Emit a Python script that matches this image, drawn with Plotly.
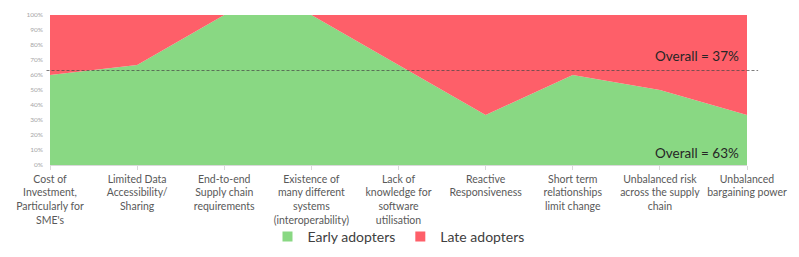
import plotly.graph_objects as go

categories = [
    "Cost of<br>Investment,<br>Particularly for<br>SME's",
    "Limited Data<br>Accessibility/<br>Sharing",
    "End-to-end<br>Supply chain<br>requirements",
    "Existence of<br>many different<br>systems<br>(interoperability)",
    "Lack of<br>knowledge for<br>software<br>utilisation",
    "Reactive<br>Responsiveness",
    "Short term<br>relationships<br>limit change",
    "Unbalanced risk<br>across the supply<br>chain",
    "Unbalanced<br>bargaining power",
]
early = [60, 66.7, 100, 100, 66.7, 33.3, 60, 50, 33.3]
late = [100 - v for v in early]
overall_early = 63
overall_late = 37
y_ticks = list(range(0, 101, 10))

GREEN = "#89D883"
RED = "#FE5F69"
FONT = "Lato"
xs = list(range(len(categories)))

fig = go.Figure()
fig.add_trace(go.Scatter(x=xs, y=early, name="Early adopters", stackgroup="one",
                         mode="none", fillcolor=GREEN, showlegend=False))
fig.add_trace(go.Scatter(x=xs, y=late, name="Late adopters", stackgroup="one",
                         mode="none", fillcolor=RED, showlegend=False))
# legend entries with square markers
fig.add_trace(go.Scatter(x=[None], y=[None], mode="markers", name="Early adopters",
                         marker=dict(symbol="square", size=10, color=GREEN)))
fig.add_trace(go.Scatter(x=[None], y=[None], mode="markers", name="Late adopters",
                         marker=dict(symbol="square", size=10, color=RED)))

fig.add_shape(type="line", xref="paper", yref="y", x0=-0.005, x1=1.016,
              y0=overall_early, y1=overall_early,
              line=dict(color="rgba(70,70,70,0.7)", width=1, dash="3px,2px"))

fig.add_annotation(x=len(categories) - 1, y=72.9, xref="x", yref="y",
                   text=f"Overall = {overall_late}%", showarrow=False,
                   xanchor="right", yanchor="middle", xshift=-6,
                   font=dict(family=FONT, size=13.5, color="#262626"))
fig.add_annotation(x=len(categories) - 1, y=8, xref="x", yref="y",
                   text=f"Overall = {overall_early}%", showarrow=False,
                   xanchor="right", yanchor="middle", xshift=-6,
                   font=dict(family=FONT, size=13.5, color="#262626"))

fig.update_layout(
    width=783, height=241,
    margin=dict(l=41.5, r=43.5, t=7, b=84, autoexpand=False),
    plot_bgcolor="white", paper_bgcolor="white",
    font=dict(family=FONT, color="#595959"),
    showlegend=True,
    legend=dict(orientation="h", x=0.5, xanchor="center", y=-0.48, yanchor="middle",
                traceorder="normal", itemwidth=30, bgcolor="rgba(0,0,0,0)",
                font=dict(family=FONT, size=14, color="#404040")),
    xaxis=dict(range=[0, len(categories) - 1], tickvals=xs, ticktext=categories,
               showgrid=False, zeroline=False, showline=True, linecolor="#D9D9D9",
               ticks="outside", ticklen=4, tickcolor="#D9D9D9", automargin=False,
               tickfont=dict(size=10.5, color="#595959"), tickangle=0),
    yaxis=dict(range=[0, 100], tickvals=y_ticks, ticktext=[f"{v}%" for v in y_ticks],
               showgrid=False, zeroline=False, showline=False, automargin=False,
               tickfont=dict(size=6.5, color="#A6A6A6"), ticks="", ticklabelstandoff=6),
)

fig.write_html("out.html")
